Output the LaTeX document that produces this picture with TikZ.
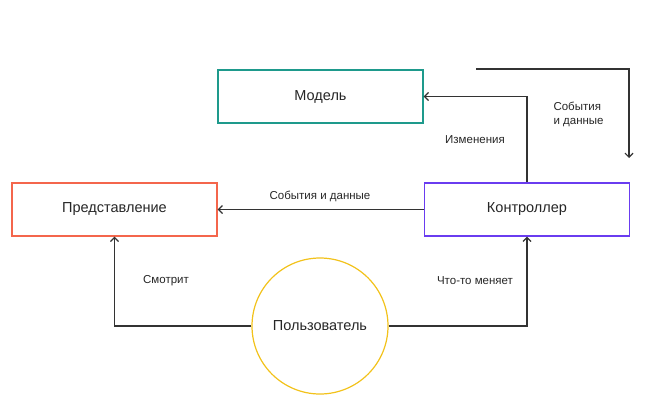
\documentclass[tikz,border=0pt]{standalone}
\usepackage{fontspec}
\setmainfont{Liberation Sans}
\usetikzlibrary{arrows.meta}
\begin{document}
\begin{tikzpicture}[x=1pt,y=-1pt,
  box/.style={draw, line width=1.3pt, minimum width=205pt, minimum height=53pt, inner sep=0pt, font=\fontsize{14.5}{17}\selectfont, text=black!85},
  conn/.style={draw=black!80, line width=1.5pt, -{Straight Barb[length=4pt,width=8pt,line width=1.2pt]}},
  lbl/.style={font=\fontsize{11.5}{14}\selectfont, text=black!85}]
\definecolor{teal1}{HTML}{1E9A8C}
\definecolor{coral}{HTML}{F4664C}
\definecolor{violet1}{HTML}{6A3CF0}
\definecolor{gold}{HTML}{F2C21B}
\useasboundingbox (0,0) rectangle (658,413);

% nodes
\node[box, draw=teal1] (model) at (320.5,96.5) {Модель};
\node[box, draw=coral] (view) at (114.5,209.5) {Представление};
\node[box, draw=violet1] (ctrl) at (527,209.5) {Контроллер};
\node[circle, draw=gold, line width=1.2pt, minimum size=136pt, inner sep=0pt,
      font=\fontsize{14.5}{17}\selectfont, text=black!85] (user) at (320,326) {Пользователь};

% free-standing flow arrow
\coordinate (fs) at (476,69);
\coordinate (fe) at (629,158);
\draw[conn] (fs) -| (fe);

% connectors
\draw[conn] (ctrl.north) |- (model.east);
\draw[conn] (ctrl.west) -- (view.east);
\draw[conn] (user.west) -| (view.south);
\draw[conn] (user.east) -| (ctrl.south);

% labels
\node[lbl] (lchg) at (475,140) {Изменения};
\node[lbl, align=left, anchor=west] (lev1) at (550,114) {События\\и данные};
\node[lbl] (lev2) at (320,196) {События и данные};
\node[lbl] (lsee) at (166,281) {Смотрит};
\node[lbl] (lmod) at (475,281) {Что-то меняет};
\end{tikzpicture}
\end{document}
